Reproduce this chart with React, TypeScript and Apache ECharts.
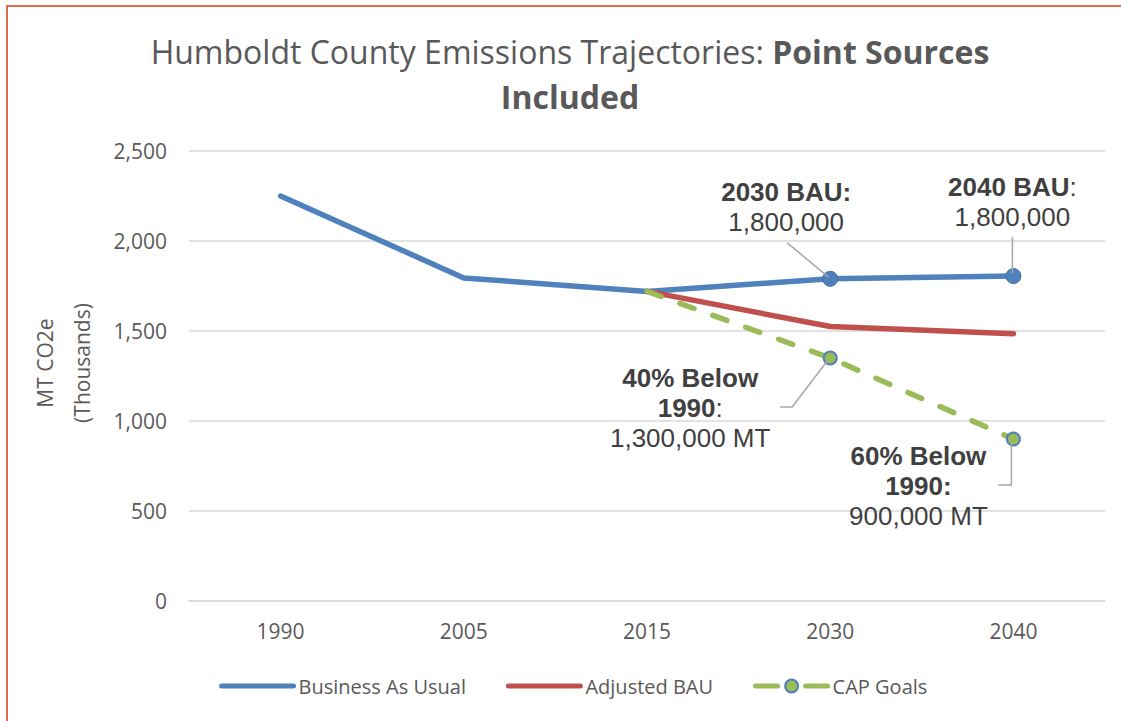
import React, { useEffect, useRef } from "react";
import * as echarts from "echarts";

const categories = ["1990", "2005", "2015", "2030", "2040"];
const businessAsUsual = [2250, 1795, 1720, 1790, 1805];
const adjustedBAU = [null, null, 1720, 1525, 1485];
const capGoals = [null, null, 1720, 1350, 900];
const yTicks = { min: 0, max: 2500, interval: 500 };

const titleLine1 = "Humboldt County Emissions Trajectories: ";
const titleLine1Bold = "Point Sources";
const titleLine2 = "Included";
const yAxisName = "MT CO2e\n(Thousands)";

const seriesNames = ["Business As Usual", "Adjusted BAU", "CAP Goals"];

const annotations = [
  { s: 0, i: 3, text: "{b|2030 BAU:}\n{r|1,800,000}", dx: -44, dy: -72, leader: [[-43, -36], [-2, -2]] },
  { s: 0, i: 4, text: "{b|2040 BAU}{r|:}\n{r|1,800,000}", dx: -1, dy: -74, leader: [[-1, -39], [-1, -3]] },
  { s: 2, i: 3, text: "{b|40% Below}\n{b|1990}{r|:}\n{r|1,300,000 MT}", dx: -140, dy: 50, leader: [[-50, 49], [-38, 49], [-3, 3]] },
  { s: 2, i: 4, text: "{b|60% Below}\n{b|1990:}\n{r|900,000 MT}", dx: -95, dy: 47, leader: [[-15, 46], [-2, 46], [-2, 3]] },
];

const BLUE = "#4f81bd";
const RED = "#c0504d";
const GREEN = "#9bbb59";
const TEXT = "#595959";

export default function App() {
  const ref = useRef<HTMLDivElement>(null);
  useEffect(() => {
    document.body.style.margin = "0";
    const chart = echarts.init(ref.current!, null, { renderer: "svg" });
    const seriesData = [businessAsUsual, adjustedBAU, capGoals];
    const option: any = {
      animation: false,
      backgroundColor: "#ffffff",
      grid: { left: 189, right: 16, top: 151, bottom: 120 },
      legend: {
        left: 214,
        top: 671,
        itemWidth: 72,
        itemHeight: 16,
        itemGap: 40,
        lineStyle: { width: 5, cap: "round" },
        textStyle: { fontFamily: "Open Sans", fontSize: 20, color: TEXT },
        data: [
          { name: seriesNames[0], itemStyle: { opacity: 0 }, lineStyle: { type: "solid", cap: "round" } },
          { name: seriesNames[1], itemStyle: { opacity: 0 }, lineStyle: { type: "solid", cap: "round" } },
          { name: seriesNames[2], lineStyle: { type: [22, 28, 22], cap: "round" } },
        ],
      },
      xAxis: {
        type: "category",
        data: categories,
        boundaryGap: true,
        axisLine: { show: true, lineStyle: { color: "#d9d9d9", width: 1.5 } },
        axisTick: { show: false },
        axisLabel: { margin: 19, fontFamily: "Open Sans", fontSize: 21, color: TEXT },
      },
      yAxis: {
        type: "value",
        min: yTicks.min,
        max: yTicks.max,
        interval: yTicks.interval,
        axisLine: { show: false },
        axisTick: { show: false },
        splitLine: { lineStyle: { color: "#d9d9d9", width: 1.5 } },
        axisLabel: {
          margin: 22,
          fontFamily: "Open Sans",
          fontSize: 21,
          color: TEXT,
          formatter: (v: number) => v.toLocaleString("en-US"),
        },
      },
      series: [
        {
          name: seriesNames[0],
          type: "line",
          data: businessAsUsual.map((v, i) =>
            i >= 3 ? { value: v, symbol: "circle", symbolSize: 15 } : { value: v, symbol: "none" }
          ),
          symbol: "none",
          showSymbol: true,
          color: BLUE,
          lineStyle: { color: BLUE, width: 5.5, cap: "round", join: "round" },
          itemStyle: { color: BLUE, borderColor: "#3f6ea8", borderWidth: 1 },
          z: 3,
        },
        {
          name: seriesNames[1],
          type: "line",
          data: adjustedBAU,
          symbol: "none",
          color: RED,
          lineStyle: { color: RED, width: 5.5, cap: "round", join: "round" },
          z: 4,
        },
        {
          name: seriesNames[2],
          type: "line",
          data: capGoals.map((v, i) => (i === 2 ? { value: v, symbol: "none" } : v)),
          symbol: "circle",
          symbolSize: 13,
          showSymbol: true,
          color: GREEN,
          lineStyle: { color: GREEN, width: 5.5, type: [15, 20], cap: "round" },
          itemStyle: { color: GREEN, borderColor: BLUE, borderWidth: 2 },
          z: 5,
        },
      ],
    };
    chart.setOption(option);

    const graphics: any[] = [
      {
        type: "rect",
        shape: { x: 7, y: 6, width: 1300, height: 900 },
        style: { fill: "none", stroke: "#dd6b4d", lineWidth: 2 },
        z: 100,
        silent: true,
      },
      {
        type: "text",
        x: 570,
        y: 51,
        style: {
          text: `{r|${titleLine1}}{b|${titleLine1Bold}}`,
          align: "center",
          verticalAlign: "middle",
          rich: {
            r: { fontFamily: "Open Sans", fontSize: 32, fill: TEXT },
            b: { fontFamily: "Open Sans", fontSize: 32, fontWeight: "bold", fill: TEXT },
          },
        },
      },
      {
        type: "text",
        x: 570,
        y: 96,
        style: {
          text: titleLine2,
          align: "center",
          verticalAlign: "middle",
          fontFamily: "Open Sans",
          fontSize: 32,
          fontWeight: "bold",
          fill: TEXT,
        },
      },
      {
        type: "text",
        x: 63,
        y: 363,
        rotation: Math.PI / 2,
        style: {
          text: yAxisName,
          align: "center",
          verticalAlign: "middle",
          fontFamily: "Open Sans",
          fontSize: 21,
          lineHeight: 37,
          fill: TEXT,
        },
      },
    ];

    annotations.forEach((a) => {
      const v = seriesData[a.s][a.i] as number;
      const [px, py] = chart.convertToPixel({ gridIndex: 0 }, [a.i, v]) as number[];
      graphics.push({
        type: "polyline",
        shape: { points: a.leader.map(([dx, dy]) => [px + dx, py + dy]) },
        style: { stroke: "#a6a6a6", lineWidth: 1.5, fill: "none" },
        z: 50,
      });
      graphics.push({
        type: "text",
        x: px + a.dx,
        y: py + a.dy,
        z: 50,
        style: {
          text: a.text,
          align: "center",
          verticalAlign: "middle",
          rich: {
            b: { fontFamily: "Liberation Sans", fontSize: 26, fontWeight: "bold", fill: "#404040", lineHeight: 30, align: "center" },
            r: { fontFamily: "Liberation Sans", fontSize: 26, fill: "#404040", lineHeight: 30, align: "center" },
          },
        },
      });
    });

    chart.setOption({ graphic: graphics });
    return () => chart.dispose();
  }, []);
  return <div ref={ref} style={{ width: 1121, height: 721 }} />;
}
